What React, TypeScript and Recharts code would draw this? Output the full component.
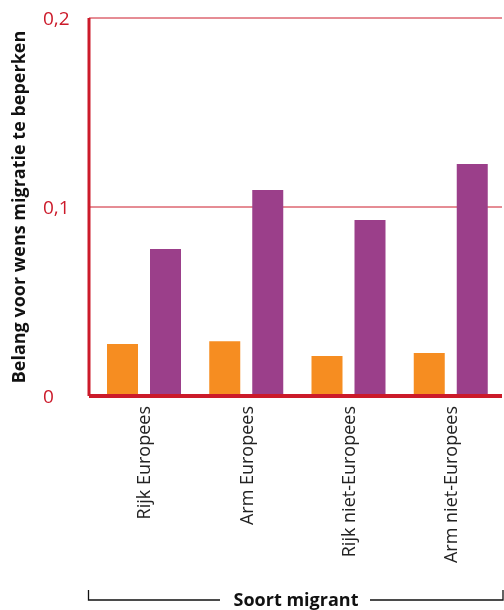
import { BarChart, Bar, XAxis, YAxis, CartesianGrid, Label } from 'recharts'

const categories = ['Rijk Europees', 'Arm Europees', 'Rijk niet-Europees', 'Arm niet-Europees']
const orangeValues = [0.0275, 0.029, 0.0212, 0.0228]
const purpleValues = [0.0778, 0.109, 0.0931, 0.1228]
const yTicks = [0, 0.1, 0.2]

const RED = '#cc1a2a'
const FONT = '"Open Sans", "Noto Sans", sans-serif'

const data = categories.map((name, i) => ({ name, a: orangeValues[i], b: purpleValues[i] }))

const fmt = (v: number) => String(v).replace('.', ',')

function YTick({ y, payload }: any) {
  return (
    <text x={43} y={y} dy="0.35em" textAnchor="start" fill={RED} fontSize={19} fontFamily={FONT}>
      {fmt(payload.value)}
    </text>
  )
}

function XTick({ x, y, payload }: any) {
  return (
    <text
      transform={`translate(${x},${y + 2}) rotate(-90)`}
      dy="0.35em"
      textAnchor="end"
      fill="#222"
      fontSize={18}
      fontFamily={FONT}
    >
      {payload.value}
    </text>
  )
}

export default function App() {
  return (
    <div style={{ position: 'fixed', left: 0, top: 0, width: 504, height: 610, overflow: 'hidden' }}>
      <BarChart
        width={504}
        height={610}
        data={data}
        margin={{ top: 18, right: 2, left: 0, bottom: 0 }}
        barGap={12}
        barSize={31}
      >
        <CartesianGrid vertical={false} stroke={RED} strokeWidth={1} />
        <XAxis
          dataKey="name"
          height={214}
          padding={{ left: 4, right: 0 }}
          axisLine={{ stroke: RED, strokeWidth: 4 }}
          tickLine={false}
          tick={<XTick />}
          interval={0}
        />
        <YAxis
          width={89}
          domain={[0, 0.2]}
          ticks={yTicks}
          axisLine={{ stroke: RED, strokeWidth: 3 }}
          tickLine={false}
          tick={<YTick />}
        >
          <Label
            content={() => (
              <text
                transform="translate(19,207) rotate(-90)"
                textAnchor="middle"
                dy="0.35em"
                fontSize={18}
                fontWeight="bold"
                fontFamily={FONT}
                fill="#111"
              >
                Belang voor wens migratie te beperken
              </text>
            )}
          />
        </YAxis>
        <Bar dataKey="a" fill="#f68d21" isAnimationActive={false} />
        <Bar dataKey="b" fill="#9b3f8a" isAnimationActive={false} />
      </BarChart>
      <svg width={504} height={610} style={{ position: 'absolute', left: 0, top: 0, pointerEvents: 'none' }}>
        <path d="M88.5,590 V600 H220 M370,600 H503 V590" stroke="#111" strokeWidth={1.3} fill="none" />
        <text x={296} y={600} dy="0.35em" textAnchor="middle" fontSize={18} fontWeight="bold" fontFamily={FONT} fill="#111">
          Soort migrant
        </text>
      </svg>
    </div>
  )
}
